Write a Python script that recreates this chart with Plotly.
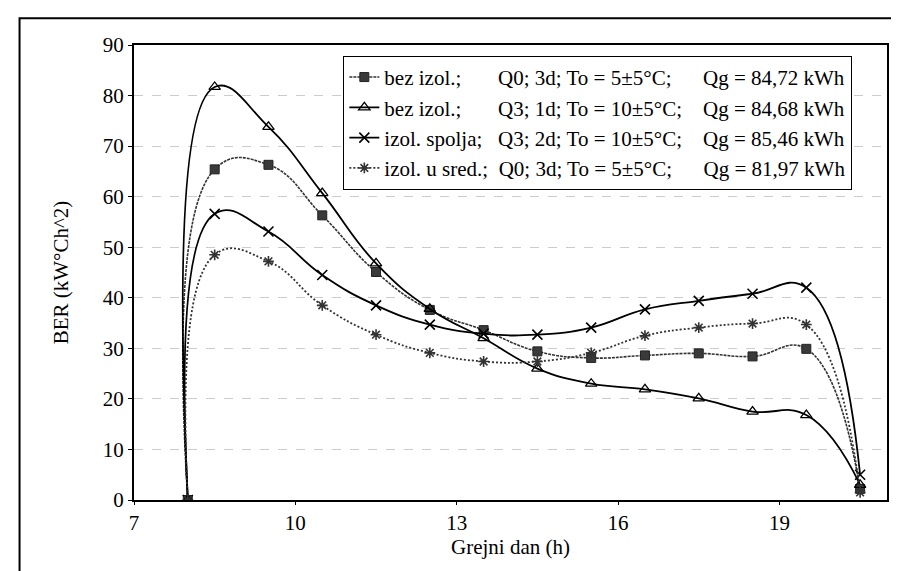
import plotly.graph_objects as go

# ---- data ----
hours = [8, 8.5, 9.5, 10.5, 11.5, 12.5, 13.5, 14.5, 15.5, 16.5, 17.5, 18.5, 19.5, 20.5]

bez_q0 = [0, 65.4, 66.3, 56.3, 45.1, 37.6, 33.6, 29.4, 28.1, 28.6, 29.0, 28.4, 29.9, 2.2]
bez_q3 = [0, 81.7, 73.8, 60.7, 46.8, 37.8, 32.0, 26.0, 23.0, 21.9, 20.1, 17.5, 16.8, 3.0]
spolja_q3 = [0, 56.6, 53.1, 44.5, 38.5, 34.7, 32.9, 32.7, 34.1, 37.7, 39.4, 40.8, 42.0, 5.0]
sred_q0 = [0, 48.5, 47.2, 38.5, 32.7, 29.1, 27.4, 27.4, 29.1, 32.5, 34.1, 34.9, 34.7, 1.5]

NB = "\u00a0"
series_names = [
    "bez izol.;" + NB * 7 + "Q0; 3d; To = 5±5°C;" + NB * 6 + "Qg = 84,72 kWh",
    "bez izol.;" + NB * 7 + "Q3; 1d; To = 10±5°C;" + NB * 4 + "Qg = 84,68 kWh",
    "izol. spolja;" + NB * 3 + "Q3; 2d; To = 10±5°C;" + NB * 4 + "Qg = 85,46 kWh",
    "izol. u sred.;" + NB * 2 + "Q0; 3d; To = 5±5°C;" + NB * 6 + "Qg = 81,97 kWh",
]

y_ticks = [0, 10, 20, 30, 40, 50, 60, 70, 80, 90]
x_ticks = [7, 10, 13, 16, 19]
dark_grid = [40, 60, 80]

FONT = "Liberation Serif, Times New Roman, serif"

fig = go.Figure()

styles = [
    dict(symbol="square", size=9, color="#3a3a3a", line_color="#333", dash="3px,1px", lw=1.6,
         mline=dict(color="#222", width=1)),
    dict(symbol="triangle-up-open", size=10, color="black", line_color="black", dash="solid", lw=1.8,
         mline=dict(color="black", width=1.3)),
    dict(symbol="x-thin-open", size=10, color="black", line_color="black", dash="solid", lw=1.8,
         mline=dict(color="black", width=1.6)),
    dict(symbol="asterisk-open", size=9, color="#333", line_color="#333", dash="2px,2px", lw=1.8,
         mline=dict(color="#333", width=1.6)),
]

for i, (vals, name) in enumerate(zip([bez_q0, bez_q3, spolja_q3, sred_q0], series_names)):
    st = styles[i]
    fig.add_trace(go.Scatter(
        x=hours, y=vals, name=name, mode="lines+markers",
        legendgroup=f"g{i}",
        line=dict(shape="spline", smoothing=1.3, color=st["line_color"], width=st["lw"], dash=st["dash"]),
        marker=dict(symbol=st["symbol"], size=st["size"], color=st["color"], line=st["mline"]),
    ))

fig.update_layout(
    width=899, height=571,
    margin=dict(l=126, r=20, t=37, b=79),
    paper_bgcolor="white", plot_bgcolor="white",
    font=dict(family=FONT, size=21, color="black"),
    showlegend=True,
    legend=dict(
        x=0.278, y=0.976, xanchor="left", yanchor="top",
        bgcolor="white", bordercolor="black", borderwidth=1,
        font=dict(family=FONT, size=21, color="black"),
        tracegroupgap=0, itemwidth=30,
    ),
    xaxis=dict(
        range=[7, 21], tickvals=x_ticks, ticktext=[str(v) for v in x_ticks],
        showgrid=False, zeroline=False,
        showline=True, linecolor="black", linewidth=2, mirror=True,
        ticks="outside", ticklen=3, tickcolor="black",
        title=dict(text="Grejni dan (h)", font=dict(family=FONT, size=21), standoff=4),
        tickfont=dict(family=FONT, size=21),
    ),
    yaxis=dict(
        range=[0, 90], tickvals=y_ticks,
        showgrid=True, gridcolor="#cccccc", griddash="dash", gridwidth=1,
        zeroline=False,
        showline=True, linecolor="black", linewidth=2, mirror=True,
        ticks="outside", ticklen=4, tickcolor="black",
        title=dict(text="BER (kW°Ch^2)", font=dict(family=FONT, size=21), standoff=28),
        tickfont=dict(family=FONT, size=21),
    ),
    yaxis2=dict(
        overlaying="y", anchor="x", range=[0, 90], tickvals=dark_grid,
        showgrid=True, gridcolor="#444", griddash="dot", gridwidth=1,
        showticklabels=False, ticks="", showline=False, zeroline=False,
    ),
)

# outer frame around the whole chart
fig.add_shape(type="rect", xref="paper", yref="paper",
              x0=-0.152, x1=1.016, y0=-0.163, y1=1.059,
              line=dict(color="black", width=2), fillcolor="rgba(0,0,0,0)", layer="above")

fig.write_html("out.html")
